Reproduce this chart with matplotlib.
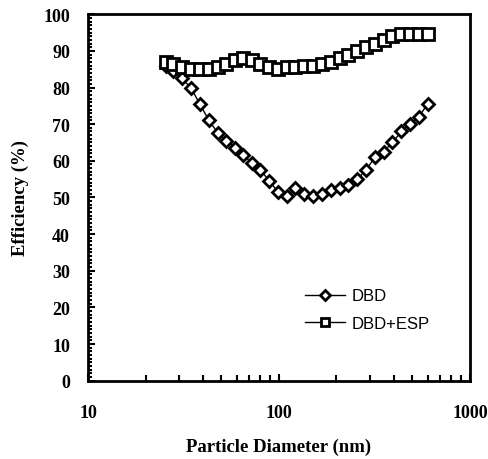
import matplotlib
matplotlib.use('Agg')
import matplotlib.pyplot as plt
from matplotlib.ticker import MultipleLocator, LogLocator, NullFormatter

# particle diameters (nm) and efficiencies (%)
diam = [25.5, 28, 31, 34.5, 38.5, 43, 48, 53, 59, 65, 72, 80, 89, 99, 110, 122,
        136, 151, 168, 187, 208, 231, 257, 286, 318, 353, 393, 437, 486, 540, 600]
eff_dbd = [86, 84.5, 82.5, 80, 75.5, 71, 67.5, 65.5, 63.5, 61.5, 59.5, 57.5, 54.5, 51.5,
           50.5, 52.5, 51, 50.5, 51, 52, 52.5, 53.5, 55, 57.5, 61, 62.5, 65, 68, 70, 72, 75.5]
eff_esp = [87, 86.5, 85.5, 85, 85, 85, 85.5, 86.5, 87.5, 88, 87.5, 86.5, 85.5, 85,
           85.5, 85.5, 86, 86, 86.5, 87, 88, 89, 90, 91, 92, 93, 94, 94.5, 94.5, 94.5, 94.5]

serif = 'Liberation Serif'

fig = plt.figure(figsize=(4.89, 4.6), dpi=100)
ax = fig.add_axes([0.18, 0.17, 0.781, 0.797])

ax.plot(diam, eff_dbd, color='black', lw=1.0, marker='D', ms=6, mfc='white',
        mec='black', mew=2.0, label='DBD')
ax.plot(diam, eff_esp, color='black', lw=1.0, marker='s', ms=8, mfc='white',
        mec='black', mew=2.0, label='DBD+ESP')

ax.set_xscale('log')
ax.set_xlim(10, 1000)
ax.set_ylim(0, 100)
ax.yaxis.set_major_locator(MultipleLocator(10))
ax.yaxis.set_minor_locator(MultipleLocator(1))
ax.xaxis.set_minor_locator(LogLocator(base=10, subs=range(2, 10)))
ax.xaxis.set_minor_formatter(NullFormatter())
ax.set_xticks([10, 100, 1000])
ax.set_xticklabels(['10', '100', '1000'])

ax.tick_params(axis='both', which='both', direction='in', top=False, right=False,
               width=1.5, color='black')
ax.tick_params(axis='y', which='major', length=5, pad=13)
ax.tick_params(axis='y', which='minor', length=3)
ax.tick_params(axis='x', which='major', length=5, pad=17)
ax.tick_params(axis='x', which='minor', length=4)

for lab in ax.get_xticklabels() + ax.get_yticklabels():
    lab.set_fontfamily(serif)
    lab.set_fontweight('bold')
    lab.set_fontsize(13)

for s in ax.spines.values():
    s.set_linewidth(2.0)

ax.set_xlabel('Particle Diameter (nm)', family=serif, weight='bold', fontsize=13.5, labelpad=12)
ax.set_ylabel('Efficiency (%)', family=serif, weight='bold', fontsize=13.5, labelpad=10)

leg = ax.legend(loc='lower left', bbox_to_anchor=(0.53, 0.095), frameon=False,
                prop={'family': 'Liberation Sans', 'size': 12}, handlelength=2.4,
                handletextpad=0.4, labelspacing=0.75, markerscale=0.8)

fig.savefig('out.png', dpi=100)
